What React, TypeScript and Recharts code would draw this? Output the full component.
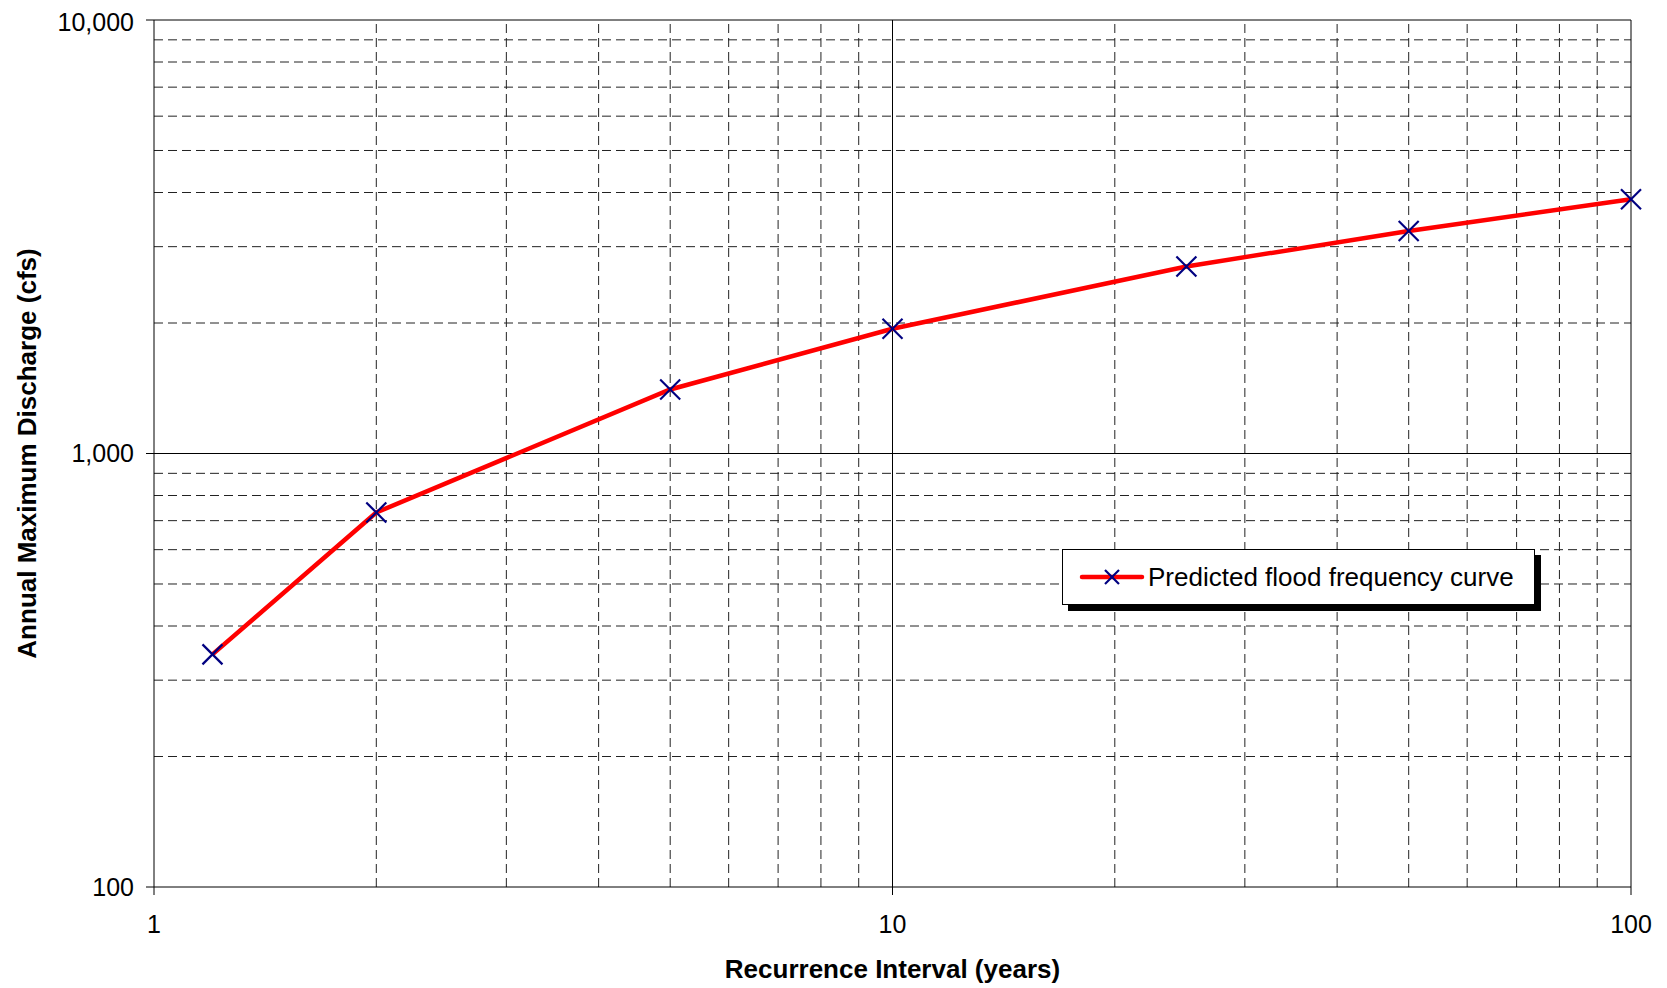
import React from "react";
import { LineChart, Line, XAxis, YAxis, ReferenceLine, Legend } from "recharts";

const recurrenceYears = [1.2, 2, 5, 10, 25, 50, 100];
const dischargeCfs = [344, 731, 1405, 1940, 2700, 3260, 3860];
const xTicks = [1, 10, 100];
const yTicks = [100, 1000, 10000];
const xMinorGrid = [2, 3, 4, 5, 6, 7, 8, 9, 20, 30, 40, 50, 60, 70, 80, 90];
const xMajorGrid = [10, 100];
const yMinorGrid = [200, 300, 400, 500, 600, 700, 800, 900, 2000, 3000, 4000, 5000, 6000, 7000, 8000, 9000];
const yMajorGrid = [1000, 10000];
const seriesName = "Predicted flood frequency curve";

const data = recurrenceYears.map((x, i) => ({ x, y: dischargeCfs[i] }));

const FONT = "'Liberation Sans', Arial, sans-serif";
const LINE_RED = "#FF0000";
const MARKER_NAVY = "#000080";

const XMarker = (props: any) => {
  const { cx, cy } = props;
  if (cx == null || cy == null) return null;
  const r = 10;
  return (
    <g>
      <line x1={cx - r} y1={cy - r} x2={cx + r} y2={cy + r} stroke={MARKER_NAVY} strokeWidth={2.2} />
      <line x1={cx - r} y1={cy + r} x2={cx + r} y2={cy - r} stroke={MARKER_NAVY} strokeWidth={2.2} />
    </g>
  );
};

const LegendBox = () => (
  <div
    style={{
      width: 473,
      height: 56,
      boxSizing: "border-box",
      border: "1px solid #000",
      background: "#fff",
      boxShadow: "6px 6px 0 #000",
      display: "flex",
      alignItems: "center",
      fontFamily: FONT,
      fontSize: 26,
      color: "#000",
    }}
  >
    <svg width={85} height={30} style={{ flex: "0 0 auto" }}>
      <line x1={19} y1={15} x2={79} y2={15} stroke={LINE_RED} strokeWidth={4.5} strokeLinecap="round" />
      <line x1={42} y1={8} x2={56} y2={22} stroke={MARKER_NAVY} strokeWidth={2.2} />
      <line x1={42} y1={22} x2={56} y2={8} stroke={MARKER_NAVY} strokeWidth={2.2} />
    </svg>
    <span style={{ whiteSpace: "nowrap" }}>{seriesName}</span>
  </div>
);

const YTitle = (props: any) => {
  const vb = props.viewBox || { x: 0, y: 0, width: 0, height: 0 };
  const cx = vb.x + 18.5;
  const cy = vb.y + vb.height / 2;
  return (
    <text
      x={cx}
      y={cy}
      transform={`rotate(-90 ${cx} ${cy})`}
      textAnchor="middle"
      dominantBaseline="central"
      fontFamily={FONT}
      fontWeight="bold"
      fontSize={26}
      fill="#000"
    >
      Annual Maximum Discharge (cfs)
    </text>
  );
};

const XTitle = (props: any) => {
  const vb = props.viewBox || { x: 0, y: 0, width: 0, height: 0 };
  return (
    <text
      x={vb.x + vb.width / 2}
      y={vb.y + 82}
      textAnchor="middle"
      dominantBaseline="central"
      fontFamily={FONT}
      fontWeight="bold"
      fontSize={26}
      fill="#000"
    >
      Recurrence Interval (years)
    </text>
  );
};

export default function App() {
  return (
    <div style={{ width: 1651, height: 975, background: "#fff" }}>
      <LineChart
        width={1651}
        height={975}
        data={data}
        style={{ overflow: "visible" }}
        margin={{ top: 12, right: 28, bottom: 0, left: 0 }}
      >
        <XAxis
          dataKey="x"
          type="number"
          scale="log"
          domain={[1, 100]}
          ticks={xTicks}
          height={96}
          tickSize={8}
          tickMargin={20}
          tick={{ fontSize: 25, fill: "#000", fontFamily: FONT }}
          tickLine={{ stroke: "#000" }}
          axisLine={{ stroke: "#000" }}
          label={{ content: XTitle } as any}
        />
        <YAxis
          dataKey="y"
          type="number"
          scale="log"
          domain={[100, 10000]}
          ticks={yTicks}
          width={146}
          tickSize={8}
          tickMargin={12}
          tickFormatter={(v: number) => v.toLocaleString("en-US")}
          tick={{ fontSize: 25, fill: "#000", fontFamily: FONT }}
          tickLine={{ stroke: "#000" }}
          axisLine={{ stroke: "#000" }}
          label={{ content: YTitle } as any}
        />
        {xMinorGrid.map((v) => (
          <ReferenceLine key={`xm${v}`} x={v} stroke="#222" strokeDasharray="9 5" strokeWidth={1} />
        ))}
        {yMinorGrid.map((v) => (
          <ReferenceLine key={`ym${v}`} y={v} stroke="#222" strokeDasharray="9 5" strokeWidth={1} />
        ))}
        {xMajorGrid.map((v) => (
          <ReferenceLine key={`xM${v}`} x={v} stroke="#000" strokeWidth={1} />
        ))}
        {yMajorGrid.map((v) => (
          <ReferenceLine key={`yM${v}`} y={v} stroke="#000" strokeWidth={1} />
        ))}
        <Legend
          content={LegendBox as any}
          layout="horizontal"
          verticalAlign="middle"
          align="center"
          wrapperStyle={{ left: 1054, top: 541, width: 480, bottom: "auto", right: "auto" }}
        />
        <Line
          name={seriesName}
          dataKey="y"
          type="linear"
          stroke={LINE_RED}
          strokeWidth={4.5}
          dot={<XMarker />}
          activeDot={false}
          isAnimationActive={false}
        />
      </LineChart>
    </div>
  );
}
